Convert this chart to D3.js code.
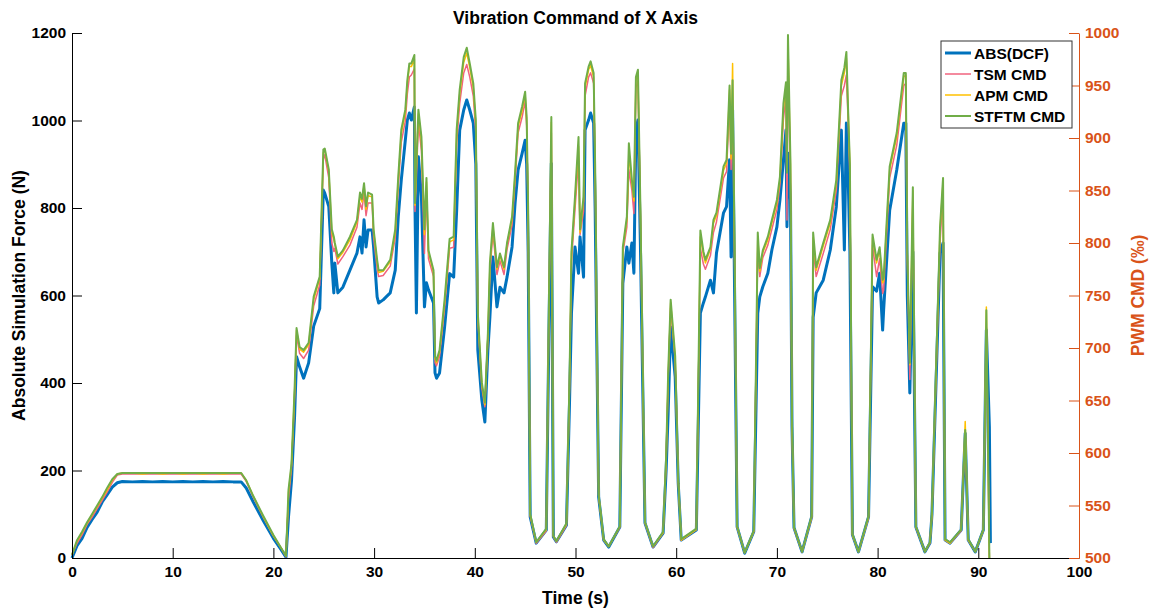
<!DOCTYPE html>
<html>
<head>
<meta charset="utf-8">
<script src="https://cdn.jsdelivr.net/npm/d3@7"></script>
<style>
  body { margin: 0; background: #fff; }
  svg text { font-family: "Liberation Sans", Arial, sans-serif; font-weight: bold; }
  .tick text { font-size: 15.5px; }
  .axis-label { font-size: 17.5px; }
  .title { font-size: 17.5px; }
  .legend-text { font-size: 15.5px; }
</style>
</head>
<body>
<svg width="1160" height="609"></svg>
<script>
// time (s)
const time = [0,0.5,1,1.5,2,2.5,3,3.5,4,4.5,
  5,6,7,8,9,10,11,12,13,14,
  15,16,16.8,17.3,18,19,20,20.8,21.25,21.5,
  21.8,22.1,22.3,22.6,23,23.5,24,24.6,24.96,25.1,
  25.5,25.8,26,26.1,26.4,26.9,27.6,28.3,28.6,28.8,
  29,29.2,29.4,29.8,29.95,30.3,30.45,30.9,31.6,32.1,
  32.4,32.7,33.1,33.3,33.5,33.7,34,34.06,34.2,34.4,
  34.7,35,35.2,35.4,35.9,36.05,36.2,36.5,37,37.5,
  37.9,38.2,38.5,38.9,39.2,39.5,39.85,40.1,40.3,40.7,
  41,41.3,41.5,41.8,42.2,42.5,42.9,43.2,43.7,44,
  44.3,44.7,45,45.15,45.3,45.5,46.1,47.1,47.35,47.6,
  47.8,48.1,49.1,49.4,49.6,49.95,50.3,50.45,50.8,50.95,
  51.3,51.5,51.8,51.95,52.3,52.8,53.3,54.4,54.7,55.1,
  55.3,55.6,55.8,56,56.2,56.45,56.9,57.7,58.7,59,
  59.2,59.45,59.9,60.2,60.5,62,62.4,62.7,62.9,63.4,
  63.7,64,64.7,65,65.3,65.45,65.6,65.8,66.05,66.8,
  67.7,68.1,68.3,68.6,69.1,69.5,70,70.3,70.65,70.9,
  71,71.1,71.35,71.5,71.7,72.5,73.45,73.6,73.9,74.6,
  75.3,75.9,76.4,76.7,76.9,77.1,77.25,77.5,78.1,79.1,
  79.5,79.9,80.2,80.5,80.6,81.2,81.9,82.6,82.8,82.95,
  83.2,83.5,83.8,84.7,85.2,85.4,86.2,86.5,86.7,87.2,
  88.3,88.7,89,89.7,90.5,90.8,91.1,91.2];

// ABS(DCF), force in N (left axis)
const absDcf = [0,28,45,70,88,105,128,145,162,172,
  175,174,175,174,175,174,175,174,175,174,
  175,174,174,160,128,85,45,18,2,94,
  178,322,460,437,411,446,530,570,841,834,
  803,674,606,674,606,619,658,697,734,697,
  773,711,750,750,711,597,583,590,606,658,
  780,864,955,1001,1017,1001,1031,803,560,917,
  826,574,629,613,583,423,411,423,528,650,
  642,795,978,1024,1047,1024,994,900,475,361,
  311,475,551,688,574,619,606,642,711,811,
  887,925,955,900,700,94,34,64,500,902,
  48,37,75,350,560,711,651,734,642,978,
  1001,1017,994,800,139,41,25,71,628,711,
  674,720,651,978,1001,711,80,25,57,200,
  331,528,414,171,41,64,560,583,597,635,
  606,697,789,803,910,688,1024,606,71,11,
  60,560,597,620,651,704,757,818,910,978,
  757,925,818,300,69,14,94,550,606,635,
  704,803,978,704,994,848,700,53,14,94,
  620,610,651,521,567,795,887,994,994,600,
  377,700,71,14,34,100,697,720,41,34,
  64,285,41,14,64,521,300,34];

// PWM commands in permille (right axis)
const tsmCmd = [503,514,522,532,539,547,555,563,572,579,
  580,580,580,580,580,580,580,580,580,580,
  580,580,580,573,558,539,521,509,501,556,
  585,650,712,695,690,698,740,760,880,884,
  862,800,792,795,780,787,798,815,838,832,
  848,826,838,838,805,776,768,769,778,805,
  853,896,916,942,958,960,966,830,862,915,
  888,790,850,785,768,686,683,692,738,795,
  796,895,933,962,970,958,940,905,728,662,
  644,708,772,810,770,783,770,794,817,858,
  905,920,935,912,822,540,514,526,728,905,
  520,515,531,660,782,832,880,808,830,940,
  958,962,952,868,559,517,511,529,790,815,
  870,850,828,948,954,822,533,510,524,590,
  668,738,688,574,517,527,795,780,775,788,
  810,820,862,868,935,870,930,780,529,505,
  525,795,768,786,798,813,832,855,918,940,
  822,975,860,622,528,506,538,795,768,790,
  813,850,940,950,960,910,862,522,506,538,
  798,768,785,752,755,862,893,950,952,785,
  670,840,529,506,514,541,800,850,517,514,
  526,617,517,506,526,720,500,null];

const apmCmd = [503,516,524,533,541,549,557,565,574,580,
  581,581,580,581,580,581,580,581,580,581,
  580,581,581,574,559,539,521,509,502,562,
  589,657,717,699,696,703,746,766,886,889,
  868,810,803,799,785,791,803,820,845,839,
  855,832,845,844,811,782,772,773,782,810,
  860,904,924,952,968,968,975,836,872,923,
  897,808,858,791,772,690,686,696,743,801,
  803,904,942,972,981,967,948,913,731,665,
  646,712,778,816,775,788,775,799,822,864,
  911,926,941,917,828,541,515,527,731,915,
  521,516,532,664,789,840,892,810,840,948,
  965,969,958,873,560,517,511,530,794,822,
  885,857,840,955,961,829,534,511,524,594,
  672,743,690,575,517,527,806,789,781,794,
  819,826,869,876,946,880,971,788,530,505,
  525,806,773,791,803,819,838,860,928,949,
  870,990,872,630,529,506,539,805,774,797,
  819,857,950,962,976,920,872,522,506,539,
  805,781,794,762,764,870,901,958,960,790,
  684,850,530,506,515,543,812,858,517,514,
  527,630,517,506,527,739,500,null];

const stftmCmd = [503,517,525,534,542,550,558,567,575,580,
  581,581,581,581,581,581,581,581,581,581,
  581,581,581,574,559,540,522,509,502,565,
  590,660,719,701,698,705,749,768,889,890,
  870,813,806,800,787,793,806,822,848,842,
  857,835,848,846,813,784,774,774,784,813,
  863,908,927,955,971,971,979,838,875,927,
  901,813,862,793,774,692,688,698,746,804,
  806,908,946,977,986,971,952,917,733,667,
  648,714,781,819,777,790,777,800,825,867,
  914,930,944,920,831,542,515,528,733,920,
  521,516,533,667,792,844,901,813,844,952,
  968,973,962,875,560,518,511,530,796,825,
  895,860,844,958,965,831,534,511,525,596,
  675,746,692,575,518,528,812,792,784,796,
  822,829,873,879,950,885,955,792,530,505,
  526,810,776,793,806,822,841,863,933,953,
  867,998,875,633,529,506,540,810,777,800,
  822,860,955,967,982,917,875,523,506,540,
  808,784,796,765,767,873,905,962,962,792,
  686,853,530,506,515,544,815,862,518,515,
  527,622,518,506,527,736,500,null];

const xTicks = [0,10,20,30,40,50,60,70,80,90,100];
const yTicksLeft = [0,200,400,600,800,1000,1200];
const yTicksRight = [500,550,600,650,700,750,800,850,900,950,1000];

[absDcf, tsmCmd, apmCmd, stftmCmd].forEach(a => {
  if (a.length !== time.length) throw new Error("length mismatch " + a.length + " vs " + time.length);
});

const svg = d3.select("svg"),
  margin = { top: 33, right: 81, bottom: 51, left: 72 },
  width = +svg.attr("width"),
  height = +svg.attr("height"),
  innerWidth = width - margin.left - margin.right,
  innerHeight = height - margin.top - margin.bottom;

const orange = "#D95319";

const g = svg.append("g").attr("transform", `translate(${margin.left},${margin.top})`);

const x = d3.scaleLinear().domain([0, 100]).range([0, innerWidth]);
const yLeft = d3.scaleLinear().domain([0, 1200]).range([innerHeight, 0]);
const yRight = d3.scaleLinear().domain([500, 1000]).range([innerHeight, 0]);

const series = [
  { name: "ABS(DCF)", values: absDcf, scale: yLeft, color: "#0072BD", width: 3 },
  { name: "TSM CMD", values: tsmCmd, scale: yRight, color: "#F0637E", width: 1.5 },
  { name: "APM CMD", values: apmCmd, scale: yRight, color: "#FFC000", width: 1.5 },
  { name: "STFTM CMD", values: stftmCmd, scale: yRight, color: "#70AD47", width: 2 }
];

series.forEach(s => {
  const line = d3.line()
    .defined(d => d != null)
    .x((d, i) => x(time[i]))
    .y(d => s.scale(d));
  g.append("path")
    .datum(s.values)
    .attr("fill", "none")
    .attr("stroke", s.color)
    .attr("stroke-width", s.width)
    .attr("stroke-linejoin", "round")
    .attr("d", line);
});

// axes, MATLAB style ticks pointing inward
const fmt = d3.format("d");

const xAxis = g.append("g")
  .attr("transform", `translate(0,${innerHeight})`)
  .call(d3.axisBottom(x).tickValues(xTicks).tickFormat(fmt).tickSizeInner(-10).tickSizeOuter(0).tickPadding(8));

const leftAxis = g.append("g")
  .call(d3.axisLeft(yLeft).tickValues(yTicksLeft).tickFormat(fmt).tickSizeInner(-10).tickSizeOuter(0).tickPadding(6));

const rightAxis = g.append("g")
  .attr("transform", `translate(${innerWidth},0)`)
  .call(d3.axisRight(yRight).tickValues(yTicksRight).tickFormat(fmt).tickSizeInner(-10).tickSizeOuter(0).tickPadding(6));

[xAxis, leftAxis, rightAxis].forEach(a => a.attr("font-family", null).attr("font-size", null));
[xAxis, leftAxis].forEach(a => {
  a.select(".domain").attr("stroke", "#000");
  a.selectAll("line").attr("stroke", "#000");
  a.selectAll("text").attr("fill", "#000");
});
rightAxis.select(".domain").attr("stroke", orange);
rightAxis.selectAll("line").attr("stroke", orange);
rightAxis.selectAll("text").attr("fill", orange);

// labels
svg.append("text")
  .attr("class", "title")
  .attr("x", margin.left + innerWidth / 2)
  .attr("y", 24)
  .attr("text-anchor", "middle")
  .text("Vibration Command of X Axis");

svg.append("text")
  .attr("class", "axis-label")
  .attr("x", margin.left + innerWidth / 2)
  .attr("y", 604)
  .attr("text-anchor", "middle")
  .text("Time (s)");

svg.append("text")
  .attr("class", "axis-label")
  .attr("transform", `translate(25,${margin.top + innerHeight / 2}) rotate(-90)`)
  .attr("text-anchor", "middle")
  .text("Absolute Simulation Force (N)");

svg.append("text")
  .attr("class", "axis-label")
  .attr("transform", `translate(1144,${margin.top + innerHeight / 2}) rotate(-90)`)
  .attr("text-anchor", "middle")
  .attr("fill", orange)
  .text("PWM CMD (\u2030)");

// legend
const legend = svg.append("g").attr("transform", "translate(941,41)");
legend.append("rect")
  .attr("width", 131)
  .attr("height", 87)
  .attr("fill", "#fff")
  .attr("stroke", "#333")
  .attr("stroke-width", 1);

series.forEach((s, i) => {
  const yy = 12 + i * 21;
  legend.append("line")
    .attr("x1", 4).attr("x2", 30)
    .attr("y1", yy).attr("y2", yy)
    .attr("stroke", s.color)
    .attr("stroke-width", s.width);
  legend.append("text")
    .attr("class", "legend-text")
    .attr("x", 33)
    .attr("y", yy + 5.5)
    .text(s.name);
});
</script>
</body>
</html>
